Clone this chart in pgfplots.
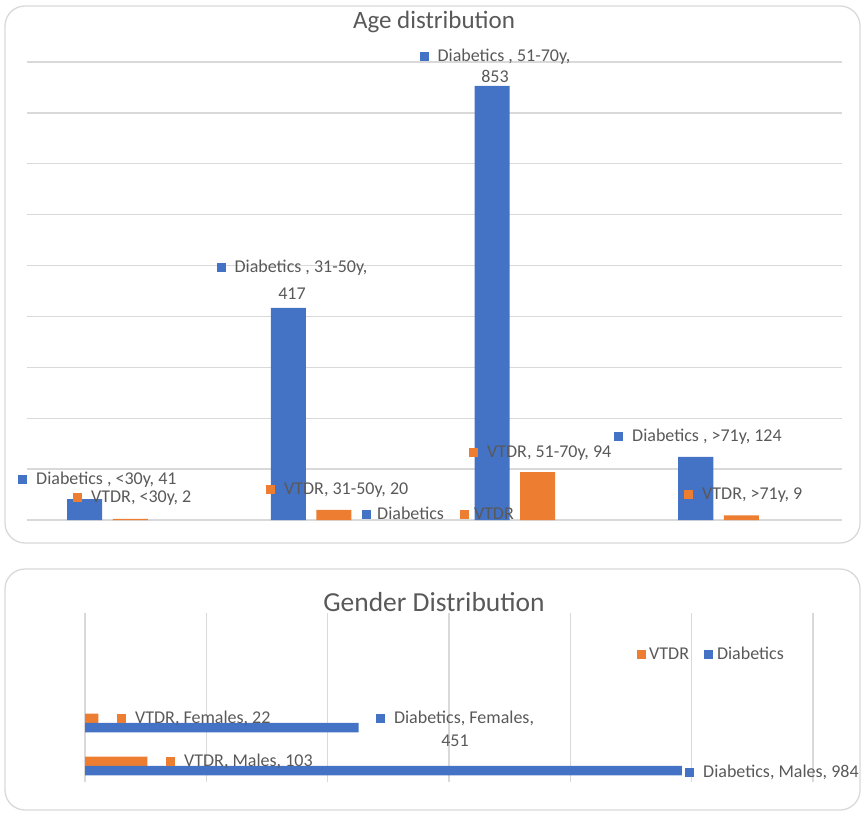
\documentclass[border=0pt]{standalone}
\usepackage{fontspec}
\setmainfont{Carlito}
\usepackage{pgfplots}
\pgfplotsset{compat=1.18}
\definecolor{xlblue}{HTML}{4472C4}
\definecolor{xlorange}{HTML}{ED7D31}
\definecolor{txtgray}{HTML}{595959}
\definecolor{gridgray}{HTML}{D9D9D9}
\newcommand{\key}[1]{\textcolor{#1}{\rule[0.5pt]{9pt}{9pt}}}
% data label: square key, gap, text; placed by its left edge
\newcommand{\lbl}[4]{\node[anchor=west, inner sep=0pt, text=txtgray, font=\fontsize{18}{21}\selectfont] at (#1,-#2) {\key{#3}\hspace{9pt}#4};}
\begin{document}
\begin{tikzpicture}[x=1pt,y=1pt]
\path[use as bounding box] (0,0) rectangle (862,-813);
\draw[gridgray, line width=1.3pt, rounded corners=20pt] (5,-6) rectangle (860,-543);
\draw[gridgray, line width=1.3pt, rounded corners=20pt] (5,-569) rectangle (860,-810);

% ---- Age distribution ----
\begin{axis}[
  at={(27pt,-520pt)}, anchor=south west, scale only axis,
  width=815pt, height=458pt,
  xmin=-0.395, xmax=3.606, ymin=0, ymax=900,
  ytick={0,100,...,900}, yticklabels={}, xtick=\empty,
  ymajorgrids, grid style={gridgray, line width=1.3pt},
  axis line style={draw=none}, major tick length=0pt,
  ybar, bar width=0.172, clip=false,
]
\addplot[fill=xlblue, draw=none, bar shift=-0.112] coordinates {(0,41) (1,417) (2,853) (3,124)};
\addplot[fill=xlorange, draw=none, bar shift=0.112] coordinates {(0,2) (1,20) (2,94) (3,9)};
\end{axis}
\node[text=txtgray, font=\fontsize{25}{30}\selectfont] at (434,-22) {Age distribution};

\node[align=center, inner sep=0pt, text=txtgray, font=\fontsize{18}{21}\selectfont] at (495,-66) {\key{xlblue}\hspace{9pt}Diabetics , 51-70y,\\853};
\node[align=center, inner sep=0pt, text=txtgray, font=\fontsize{18}{27}\selectfont] at (292,-280) {\key{xlblue}\hspace{9pt}Diabetics , 31-50y,\\417};
\lbl{18}{480}{xlblue}{Diabetics , <30y, 41}
\lbl{73}{498}{xlorange}{VTDR, <30y, 2}
\lbl{266}{490}{xlorange}{VTDR, 31-50y, 20}
\lbl{469}{453}{xlorange}{VTDR, 51-70y, 94}
\lbl{614}{437}{xlblue}{Diabetics , >71y, 124}
\lbl{684}{495}{xlorange}{VTDR, >71y, 9}
% legend
\node[anchor=west, inner sep=0pt, text=txtgray, font=\fontsize{18}{21}\selectfont] at (362,-513)
  {\key{xlblue}\hspace{6pt}Diabetics\hspace{16pt}\key{xlorange}\hspace{5pt}VTDR};

% ---- Gender distribution ----
\begin{axis}[
  at={(85pt,-782pt)}, anchor=south west, scale only axis,
  width=728pt, height=169pt,
  xmin=0, xmax=1200, ymin=-0.372, ymax=3.558,
  xtick={0,200,...,1200}, xticklabels={}, ytick=\empty,
  xmajorgrids, grid style={gridgray, line width=1.3pt},
  axis line style={draw=none}, major tick length=0pt,
  xbar, bar width=0.221, clip=false,
]
\addplot[fill=xlorange, draw=none, bar shift=0.11] coordinates {(103,0) (22,1)};
\addplot[fill=xlblue, draw=none, bar shift=-0.11] coordinates {(984,0) (451,1)};
\end{axis}
\node[text=txtgray, font=\fontsize{27.5}{32}\selectfont] at (434,-602) {Gender Distribution};

\lbl{117}{718}{xlorange}{VTDR, Females, 22}
\lbl{166}{761}{xlorange}{VTDR, Males, 103}
\lbl{685}{772}{xlblue}{Diabetics, Males, 984}
\node[align=center, inner sep=0pt, text=txtgray, font=\fontsize{18}{23}\selectfont] at (455,-729) {\key{xlblue}\hspace{9pt}Diabetics, Females,\\451};
% legend
\node[anchor=west, inner sep=0pt, text=txtgray, font=\fontsize{18}{21}\selectfont] at (637,-653)
  {\key{xlorange}\hspace{3pt}VTDR\hspace{15pt}\key{xlblue}\hspace{4pt}Diabetics};
\end{tikzpicture}
\end{document}
